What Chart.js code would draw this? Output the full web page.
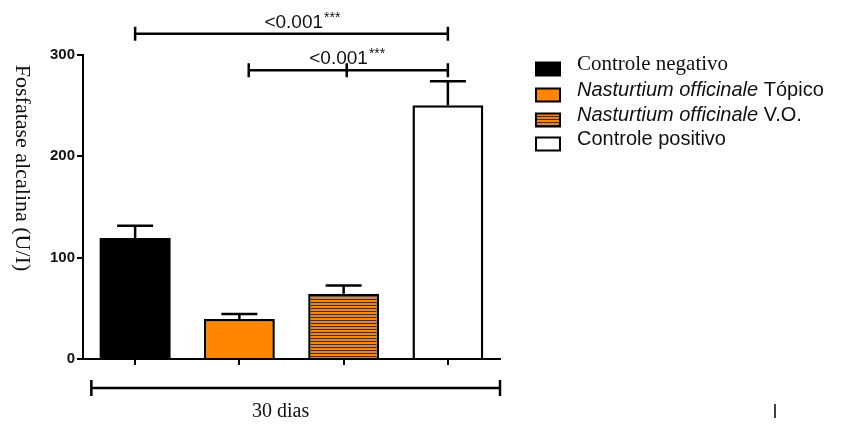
<!DOCTYPE html>
<html lang="pt">
<head>
    <meta charset="UTF-8">
    <title>Fosfatase alcalina - 30 dias</title>
    <script src="https://cdn.jsdelivr.net/npm/chart.js"></script>
    <style>
        body {
            margin: 0;
            background: #fff;
        }
    </style>
</head>
<body>
    <canvas id="faChart" width="843" height="425"></canvas>
    <script>
        // Dados
        const categories = ['Controle negativo', 'Nasturtium officinale Tópico', 'Nasturtium officinale V.O.', 'Controle positivo'];
        const means = [119.5, 39.5, 64.5, 250.5];
        const sem = [12, 5, 8, 23.5];
        const yTicks = [0, 100, 200, 300];
        const yTitle = 'Fosfatase alcalina (U/I)';
        const groupLabel = '30 dias';

        // Comparações (índices de categoria e altura em U/I)
        const pLabels = ['<0.001', '<0.001'];
        const pStars = ['***', '***'];
        const bracketFrom = [0, 1.09];
        const bracketTo = [3, 3];
        const bracketMid = [null, 2.03];
        const bracketY = [321, 285];
        const labelAt = [1.6, 2.03];

        const ctx = document.getElementById('faChart').getContext('2d');

        // Padrão listrado para V.O.
        const stripes = (function () {
            const c = document.createElement('canvas');
            c.width = 8; c.height = 6;
            const g = c.getContext('2d');
            g.fillStyle = '#ff8400';
            g.fillRect(0, 0, 8, 6);
            g.fillStyle = '#c98a52';
            g.fillRect(0, 3, 8, 2);
            g.fillStyle = '#5a2a08';
            g.fillRect(0, 2, 8, 1);
            g.fillRect(0, 5, 8, 1);
            return ctx.createPattern(c, 'repeat');
        })();

        const fills = ['#000000', '#ff8400', stripes, '#ffffff'];

        const sans = '"Liberation Sans", Arial, sans-serif';
        const serif = '"Liberation Serif", "Times New Roman", serif';

        const legendParts = [
            [{ t: 'Controle negativo', f: '21px ' + serif }],
            [{ t: 'Nasturtium officinale', f: 'italic 20px ' + sans }, { t: ' Tópico', f: '20px ' + sans }],
            [{ t: 'Nasturtium officinale', f: 'italic 20px ' + sans }, { t: ' V.O.', f: '20px ' + sans }],
            [{ t: 'Controle positivo', f: '20px ' + sans }]
        ];

        const extras = {
            id: 'extras',
            afterDatasetsDraw(chart) {
                const c = chart.ctx;
                const y = chart.scales.y;
                const meta = chart.getDatasetMeta(0);
                c.save();
                c.strokeStyle = '#000';
                c.lineWidth = 2.5;
                // barras de erro (só para cima)
                meta.data.forEach((bar, i) => {
                    const top = y.getPixelForValue(means[i] + sem[i]);
                    c.beginPath();
                    c.moveTo(bar.x, bar.y);
                    c.lineTo(bar.x, top);
                    c.moveTo(bar.x - 18, top);
                    c.lineTo(bar.x + 18, top);
                    c.stroke();
                });
                c.restore();
            },
            afterDraw(chart) {
                const c = chart.ctx;
                const x = chart.scales.x, y = chart.scales.y;
                const area = chart.chartArea;
                c.save();
                c.strokeStyle = '#000';
                c.fillStyle = '#111';
                c.lineWidth = 2.5;

                // colchetes de significância
                pLabels.forEach((lab, i) => {
                    const yy = y.getPixelForValue(bracketY[i]);
                    const x1 = x.getPixelForValue(bracketFrom[i]);
                    const x2 = x.getPixelForValue(bracketTo[i]);
                    c.beginPath();
                    c.moveTo(x1, yy); c.lineTo(x2, yy);
                    c.moveTo(x1, yy - 7); c.lineTo(x1, yy + 7);
                    c.moveTo(x2, yy - 7); c.lineTo(x2, yy + 7);
                    if (bracketMid[i] !== null) {
                        const xm = x.getPixelForValue(bracketMid[i]);
                        c.moveTo(xm, yy - 7); c.lineTo(xm, yy + 7);
                    }
                    c.stroke();

                    c.font = '19px ' + sans;
                    const w1 = c.measureText(lab).width;
                    c.font = '14px ' + sans;
                    const w2 = c.measureText(pStars[i]).width;
                    const left = x.getPixelForValue(labelAt[i]) - (w1 + w2) / 2;
                    const base = yy - 6;
                    c.textAlign = 'left';
                    c.textBaseline = 'alphabetic';
                    c.font = '19px ' + sans;
                    c.fillText(lab, left, base);
                    c.font = '14px ' + sans;
                    c.fillText(pStars[i], left + w1 + 1, base - 6);
                });

                // título do eixo y (girado no sentido horário)
                c.save();
                c.translate(22, 168);
                c.rotate(Math.PI / 2);
                c.font = '22px ' + serif;
                c.textAlign = 'center';
                c.textBaseline = 'middle';
                c.fillStyle = '#111';
                c.fillText(yTitle, 0, 0);
                c.restore();

                // colchete do grupo
                const gy = area.bottom + 29;
                const gx1 = x.getPixelForValue(-0.42);
                const gx2 = x.getPixelForValue(3.5);
                c.beginPath();
                c.moveTo(gx1, gy); c.lineTo(gx2, gy);
                c.moveTo(gx1, gy - 8); c.lineTo(gx1, gy + 8);
                c.moveTo(gx2, gy - 8); c.lineTo(gx2, gy + 8);
                c.stroke();
                c.font = '20px ' + serif;
                c.textAlign = 'center';
                c.textBaseline = 'alphabetic';
                c.fillText(groupLabel, (gx1 + gx2) / 2 - 15, gy + 29);

                // legenda
                const rowY = [69, 95, 120, 144];
                categories.forEach((cat, i) => {
                    const cy = rowY[i];
                    c.fillStyle = fills[i];
                    c.fillRect(536, cy - 6.5, 24, 13);
                    c.lineWidth = 2;
                    c.strokeStyle = '#000';
                    c.strokeRect(536, cy - 6.5, 24, 13);
                    let tx = 577;
                    c.fillStyle = '#111';
                    c.textAlign = 'left';
                    c.textBaseline = 'alphabetic';
                    legendParts[i].forEach(p => {
                        c.font = p.f;
                        c.fillText(p.t, tx, cy + 1);
                        tx += c.measureText(p.t).width;
                    });
                });

                // marca solta no canto inferior
                c.lineWidth = 1.5;
                c.beginPath();
                c.moveTo(775, 404);
                c.lineTo(775, 418);
                c.stroke();
                c.restore();
            }
        };

        new Chart(ctx, {
            type: 'bar',
            data: {
                labels: categories,
                datasets: [{
                    data: means,
                    backgroundColor: fills,
                    borderColor: '#000',
                    borderWidth: [0, 2.5, 2.5, 2.5],
                    borderSkipped: 'start',
                    categoryPercentage: 1,
                    barPercentage: 0.68
                }]
            },
            options: {
                responsive: false,
                animation: false,
                layout: {
                    padding: { left: 43, right: 343, top: 55, bottom: 56 }
                },
                plugins: {
                    legend: { display: false },
                    tooltip: { enabled: false }
                },
                scales: {
                    x: {
                        grid: {
                            display: true,
                            drawOnChartArea: false,
                            drawTicks: true,
                            tickLength: 6,
                            offset: false,
                            color: '#000',
                            lineWidth: 2
                        },
                        border: { display: true, color: '#000', width: 2 },
                        ticks: { display: false },
                        afterFit: s => { s.height = 10; }
                    },
                    y: {
                        min: 0,
                        max: 300,
                        afterBuildTicks: s => { s.ticks = yTicks.map(v => ({ value: v })); },
                        ticks: {
                            font: { family: 'Liberation Sans, Arial, sans-serif', weight: 'bold', size: 15 },
                            color: '#111',
                            padding: 2
                        },
                        grid: {
                            drawOnChartArea: false,
                            tickLength: 6,
                            color: '#000',
                            lineWidth: 2
                        },
                        border: { display: true, color: '#000', width: 2 },
                        afterFit: s => { s.width = 40; }
                    }
                }
            },
            plugins: [extras]
        });
    </script>
</body>
</html>
